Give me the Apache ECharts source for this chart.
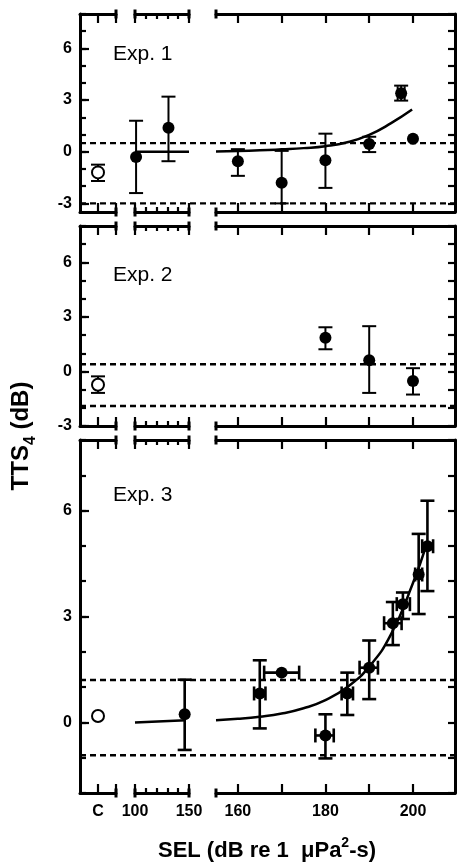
<!DOCTYPE html>
<html><head><meta charset="utf-8">
<script src="https://cdn.jsdelivr.net/npm/echarts@6/dist/echarts.min.js"></script>
<style>html,body{margin:0;padding:0;background:#fff}#c{width:457px;height:863px}</style>
</head><body><div id="c"></div>
<script>
// ---------------- data ----------------
// x-axis segments: control "C", 100–150 dB, 155–210 dB
const segCRange = [0, 2];
const segLowRange = [100, 150];
const segHighRange = [155, 209.6];
const ctrlX = 1;
const ctrlTickLabel = ['C'];
const lowTickLabels = [100, 150];
const highTicks = [160, 170, 180, 190, 200];
const highTickLabels = [160, 180, 200];

// Experiment 1
const exp1YRange = [-3.5, 8];
const exp1YLabels = [-3, 0, 3, 6];
const exp1YMinor = [-3, -2, -1, 0, 1, 2, 3, 4, 5, 6, 7, 8];
const exp1CtrlTTS = [-1.2];
const exp1CtrlErr = [[-1.7, -0.75]];
const exp1LowSEL = [101, 131];
const exp1LowTTS = [-0.3, 1.4];
const exp1LowErr = [[-2.4, 1.8], [-0.55, 3.2]];
const exp1HighSEL = [160, 170, 180, 190, 197.3, 200];
const exp1HighTTS = [-0.55, -1.8, -0.5, 0.45, 3.4, 0.75];
const exp1HighYErr = [[-1.4, 0.15], [-3.0, 0.05], [-2.1, 1.05], [-0.02, 0.87], [2.97, 3.84], null];
const exp1HighXErr = [null, null, null, null, [196.5, 198.1], null];
const exp1FitLow = [[100, 0], [150, 0]];
const exp1FitHigh = [[155, 0.02], [160, 0.04], [165, 0.08], [170, 0.14], [175, 0.21], [180, 0.32], [185, 0.55], [190, 0.98], [195, 1.66], [199.8, 2.45]];
const exp1Baseline = [0.5, -3.0];

// Experiment 2
const exp2YRange = [-3, 8];
const exp2YLabels = [-3, 0, 3, 6];
const exp2YMinor = [-3, -2, -1, 0, 1, 2, 3, 4, 5, 6, 7, 8];
const exp2CtrlTTS = [-0.73];
const exp2CtrlErr = [[-1.18, -0.27]];
const exp2LowSEL = [];
const exp2LowTTS = [];
const exp2LowErr = [];
const exp2HighSEL = [180, 190, 200];
const exp2HighTTS = [1.85, 0.62, -0.53];
const exp2HighYErr = [[1.22, 2.43], [-1.18, 2.49], [-1.27, 0.18]];
const exp2HighXErr = [null, null, null];
const exp2FitLow = [];
const exp2FitHigh = [];
const exp2Baseline = [0.4, -1.9];

// Experiment 3
const exp3YRange = [-2, 8];
const exp3YLabels = [0, 3, 6];
const exp3YMinor = [-2, -1, 0, 1, 2, 3, 4, 5, 6, 7, 8];
const exp3CtrlTTS = [0.18];
const exp3CtrlErr = [null];
const exp3LowSEL = [146];
const exp3LowTTS = [0.23];
const exp3LowErr = [[-0.78, 1.21]];
const exp3HighSEL = [165, 170, 180, 185, 190, 195.4, 197.7, 201.3, 203.3];
const exp3HighTTS = [0.82, 1.41, -0.37, 0.82, 1.55, 2.81, 3.35, 4.19, 4.99];
const exp3HighYErr = [[-0.17, 1.76], null, [-1.02, 0.23], [0.21, 1.41], [0.66, 2.32], [2.19, 3.41], [2.93, 3.68], [3.07, 5.34], [3.72, 6.28]];
const exp3HighXErr = [[163.7, 166.3], [166, 174], [177.7, 181.9], [183.7, 186.3], [187.8, 192], [193.4, 197.4], [196.3, 199.3], [200.5, 202.1], [202.1, 204.6]];
const exp3FitLow = [[100, 0.0], [147, 0.06]];
const exp3FitHigh = [[155, 0.06], [160, 0.1], [165, 0.16], [170, 0.25], [175, 0.4], [180, 0.63], [185, 1.0], [190, 1.58], [195, 2.5], [200, 3.95], [203, 5.0]];
const exp3Baseline = [1.2, -0.93];

const expLabels = ['Exp. 1', 'Exp. 2', 'Exp. 3'];
const yTitle = 'TTS';
const yTitleSub = '4';
const xTitleMain = 'SEL (dB re 1  μPa';
const xTitleSup = '2';
const xTitleEnd = '-s)';

// ---------------- layout ----------------
const FONT = '"Liberation Sans", Arial, Helvetica, sans-serif';
const SEG_X = [[80, 116], [135, 189], [216, 455]];
const PANEL_Y = [[14, 212], [226, 426], [440, 793]];
const EXP_LABEL_TOP = [44, 264.5, 485];
const ERR_W = [2, 2, 2.6];

const panels = [
  { yr: exp1YRange, majors: exp1YLabels, minors: exp1YMinor, ctrlTTS: exp1CtrlTTS, ctrlErr: exp1CtrlErr,
    lowSEL: exp1LowSEL, lowTTS: exp1LowTTS, lowErr: exp1LowErr, lowFit: exp1FitLow,
    highSEL: exp1HighSEL, highTTS: exp1HighTTS, highYErr: exp1HighYErr, highXErr: exp1HighXErr, highFit: exp1FitHigh, base: exp1Baseline },
  { yr: exp2YRange, majors: exp2YLabels, minors: exp2YMinor, ctrlTTS: exp2CtrlTTS, ctrlErr: exp2CtrlErr,
    lowSEL: exp2LowSEL, lowTTS: exp2LowTTS, lowErr: exp2LowErr, lowFit: exp2FitLow,
    highSEL: exp2HighSEL, highTTS: exp2HighTTS, highYErr: exp2HighYErr, highXErr: exp2HighXErr, highFit: exp2FitHigh, base: exp2Baseline },
  { yr: exp3YRange, majors: exp3YLabels, minors: exp3YMinor, ctrlTTS: exp3CtrlTTS, ctrlErr: exp3CtrlErr,
    lowSEL: exp3LowSEL, lowTTS: exp3LowTTS, lowErr: exp3LowErr, lowFit: exp3FitLow,
    highSEL: exp3HighSEL, highTTS: exp3HighTTS, highYErr: exp3HighYErr, highXErr: exp3HighXErr, highFit: exp3FitHigh, base: exp3Baseline }
];

const lineSt = { color: '#000', width: 3 };
const tickSt = { color: '#000', width: 2.2 };
const grids = [], xAxes = [], yAxes = [], series = [];

function makeVErr(lw) {
  return function (params, api) {
    const x = api.value(0), lo = api.value(1), hi = api.value(2);
    const a = api.coord([x, lo]), b = api.coord([x, hi]);
    const w = 7, st = { stroke: '#000', lineWidth: lw };
    return { type: 'group', children: [
      { type: 'line', shape: { x1: a[0], y1: a[1], x2: b[0], y2: b[1] }, style: st },
      { type: 'line', shape: { x1: a[0] - w, y1: a[1], x2: a[0] + w, y2: a[1] }, style: st },
      { type: 'line', shape: { x1: b[0] - w, y1: b[1], x2: b[0] + w, y2: b[1] }, style: st }
    ]};
  };
}
function makeHErr(lw) {
  return function (params, api) {
    const y = api.value(0), lo = api.value(1), hi = api.value(2);
    const a = api.coord([lo, y]), b = api.coord([hi, y]);
    const h = 7, st = { stroke: '#000', lineWidth: lw };
    return { type: 'group', children: [
      { type: 'line', shape: { x1: a[0], y1: a[1], x2: b[0], y2: b[1] }, style: st },
      { type: 'line', shape: { x1: a[0], y1: a[1] - h, x2: a[0], y2: a[1] + h }, style: st },
      { type: 'line', shape: { x1: b[0], y1: b[1] - h, x2: b[0], y2: b[1] + h }, style: st }
    ]};
  };
}

function xAxisFor(g, s, pos, showLabel) {
  const ranges = [segCRange, segLowRange, segHighRange];
  const ax = {
    gridIndex: g, type: 'value', position: pos, min: ranges[s][0], max: ranges[s][1],
    splitLine: { show: false },
    axisLine: { show: true, onZero: false, lineStyle: lineSt },
    axisTick: { show: true, inside: true, length: 9, lineStyle: tickSt },
    axisLabel: { show: showLabel, color: '#000', fontFamily: FONT, fontWeight: 'bold', fontSize: 16, margin: 11 }
  };
  if (s === 0) {
    ax.interval = 1;
    ax.axisTick.customValues = [ctrlX, segCRange[1]];
    ax.axisLabel.customValues = [ctrlX];
    ax.axisLabel.formatter = () => ctrlTickLabel[0];
    ax.axisLine.symbol = ['none', 'rect'];
    ax.axisLine.symbolSize = [9, 3];
  } else if (s === 1) {
    ax.interval = 50;
    ax.minorTick = { show: true, splitNumber: 5, length: 5, lineStyle: tickSt };
    ax.axisLabel.customValues = lowTickLabels;
    ax.axisLine.symbol = ['rect', 'rect'];
    ax.axisLine.symbolSize = [9, 3];
  } else {
    ax.axisTick.customValues = highTicks;
    ax.axisLabel.customValues = highTickLabels;
    ax.axisLine.symbol = ['rect', 'none'];
    ax.axisLine.symbolSize = [9, 3];
  }
  xAxes.push(ax);
  return xAxes.length - 1;
}

panels.forEach((P, p) => {
  const xi = [], yi = [];
  const isLast = p === panels.length - 1;
  for (let s = 0; s < 3; s++) {
    const g = grids.length;
    grids.push({ left: SEG_X[s][0], top: PANEL_Y[p][0], width: SEG_X[s][1] - SEG_X[s][0],
      height: PANEL_Y[p][1] - PANEL_Y[p][0], containLabel: false, outerBoundsMode: 'none' });
    xi.push(xAxisFor(g, s, 'bottom', isLast));
    xAxisFor(g, s, 'top', false);
    const baseY = { gridIndex: g, type: 'value', min: P.yr[0], max: P.yr[1], splitLine: { show: false } };
    if (s === 0) {
      yAxes.push(Object.assign({}, baseY, {
        position: 'left',
        axisLine: { show: true, onZero: false, lineStyle: lineSt },
        axisTick: { show: true, inside: true, length: 9, customValues: P.majors, lineStyle: tickSt },
        axisLabel: { show: true, customValues: P.majors, color: '#000', fontFamily: FONT, fontWeight: 'bold', fontSize: 16, margin: 8 }
      }));
      yi.push(yAxes.length - 1);
      yAxes.push(Object.assign({}, baseY, {
        position: 'left',
        axisLine: { show: false, onZero: false },
        axisTick: { show: true, inside: true, length: 6, customValues: P.minors, lineStyle: tickSt },
        axisLabel: { show: false }
      }));
    } else if (s === 1) {
      yAxes.push(Object.assign({}, baseY, { show: false }));
      yi.push(yAxes.length - 1);
    } else {
      yAxes.push(Object.assign({}, baseY, {
        position: 'right',
        axisLine: { show: true, onZero: false, lineStyle: lineSt },
        axisTick: { show: true, inside: true, length: 7, customValues: P.minors, lineStyle: tickSt },
        axisLabel: { show: false }
      }));
      yi.push(yAxes.length - 1);
    }
  }
  // overlay grid for dashed reference lines across the whole panel
  const go = grids.length;
  grids.push({ left: SEG_X[0][0], top: PANEL_Y[p][0], width: SEG_X[2][1] - SEG_X[0][0],
    height: PANEL_Y[p][1] - PANEL_Y[p][0], containLabel: false, outerBoundsMode: 'none' });
  xAxes.push({ gridIndex: go, type: 'value', min: 0, max: 1, show: false });
  yAxes.push({ gridIndex: go, type: 'value', min: P.yr[0], max: P.yr[1], show: false });
  const oxi = xAxes.length - 1, oyi = yAxes.length - 1;
  P.base.forEach(v => {
    series.push({ type: 'line', xAxisIndex: oxi, yAxisIndex: oyi, data: [[0, v], [1, v]], symbol: 'none',
      lineStyle: { color: '#000', width: 2.4, type: [6, 4] }, z: 1, silent: true });
  });

  const vErr = makeVErr(ERR_W[p]), hErr = makeHErr(ERR_W[p]);

  // control segment
  const ctrlErr = P.ctrlErr.map((e) => e ? [ctrlX, e[0], e[1]] : null).filter(Boolean);
  if (ctrlErr.length) series.push({ type: 'custom', xAxisIndex: xi[0], yAxisIndex: yi[0], data: ctrlErr,
    encode: { x: 0, y: [1, 2] }, renderItem: vErr, z: 3, clip: false, silent: true });
  series.push({ type: 'scatter', xAxisIndex: xi[0], yAxisIndex: yi[0], data: P.ctrlTTS.map(v => [ctrlX, v]),
    symbol: 'circle', symbolSize: 12, itemStyle: { color: '#fff', borderColor: '#000', borderWidth: 2, opacity: 1 }, z: 6, silent: true });

  // low segment (100–150)
  if (P.lowFit.length) series.push({ type: 'line', xAxisIndex: xi[1], yAxisIndex: yi[1], data: P.lowFit, symbol: 'none',
    lineStyle: { color: '#000', width: 2.5 }, z: 3, silent: true });
  if (P.lowSEL.length) {
    series.push({ type: 'custom', xAxisIndex: xi[1], yAxisIndex: yi[1],
      data: P.lowErr.map((e, i) => [P.lowSEL[i], e[0], e[1]]), encode: { x: 0, y: [1, 2] }, renderItem: vErr, z: 4, clip: false, silent: true });
    series.push({ type: 'scatter', xAxisIndex: xi[1], yAxisIndex: yi[1], data: P.lowSEL.map((x, i) => [x, P.lowTTS[i]]),
      symbol: 'circle', symbolSize: 12, itemStyle: { color: '#000', opacity: 1 }, z: 5, silent: true });
  }

  // high segment (155–210)
  if (P.highFit.length) series.push({ type: 'line', xAxisIndex: xi[2], yAxisIndex: yi[2], data: P.highFit, symbol: 'none',
    smooth: 0.5, lineStyle: { color: '#000', width: 2.5 }, z: 3, silent: true });
  const ye = P.highYErr.map((e, i) => e ? [P.highSEL[i], e[0], e[1]] : null).filter(Boolean);
  const xe = P.highXErr.map((e, i) => e ? [P.highTTS[i], e[0], e[1]] : null).filter(Boolean);
  if (ye.length) series.push({ type: 'custom', xAxisIndex: xi[2], yAxisIndex: yi[2], data: ye,
    encode: { x: 0, y: [1, 2] }, renderItem: vErr, z: 4, clip: false, silent: true });
  if (xe.length) series.push({ type: 'custom', xAxisIndex: xi[2], yAxisIndex: yi[2], data: xe,
    encode: { y: 0, x: [1, 2] }, renderItem: hErr, z: 4, clip: false, silent: true });
  series.push({ type: 'scatter', xAxisIndex: xi[2], yAxisIndex: yi[2], data: P.highSEL.map((x, i) => [x, P.highTTS[i]]),
    symbol: 'circle', symbolSize: 12, itemStyle: { color: '#000', opacity: 1 }, z: 5, silent: true });
});

const titles = expLabels.map((t, p) => ({
  text: t, left: 113, top: EXP_LABEL_TOP[p], padding: 0,
  textStyle: { fontFamily: FONT, fontSize: 21, fontWeight: 'normal', color: '#000', lineHeight: 21 }
}));

const chart = echarts.init(document.getElementById('c'), null, { renderer: 'canvas' });
chart.setOption({
  animation: false,
  backgroundColor: '#fff',
  title: titles,
  grid: grids,
  xAxis: xAxes,
  yAxis: yAxes,
  series: series,
  graphic: [
    { type: 'text', x: 24, y: 436, rotation: Math.PI / 2,
      style: { text: '{a|' + yTitle + '}{s|' + yTitleSub + '}{a| (dB)}', align: 'center', verticalAlign: 'middle',
        rich: { a: { fontFamily: FONT, fontWeight: 'bold', fontSize: 24, lineHeight: 30, verticalAlign: 'top', fill: '#000' },
                s: { fontFamily: FONT, fontWeight: 'bold', fontSize: 16, lineHeight: 30, verticalAlign: 'bottom', fill: '#000' } } } },
    { type: 'text', x: 267, y: 849,
      style: { text: '{a|' + xTitleMain + '}{s|' + xTitleSup + '}{a|' + xTitleEnd + '}', align: 'center', verticalAlign: 'middle',
        rich: { a: { fontFamily: FONT, fontWeight: 'bold', fontSize: 22, lineHeight: 26, verticalAlign: 'bottom', fill: '#000' },
                s: { fontFamily: FONT, fontWeight: 'bold', fontSize: 14, lineHeight: 26, verticalAlign: 'top', fill: '#000' } } } }
  ]
});
</script></body></html>
